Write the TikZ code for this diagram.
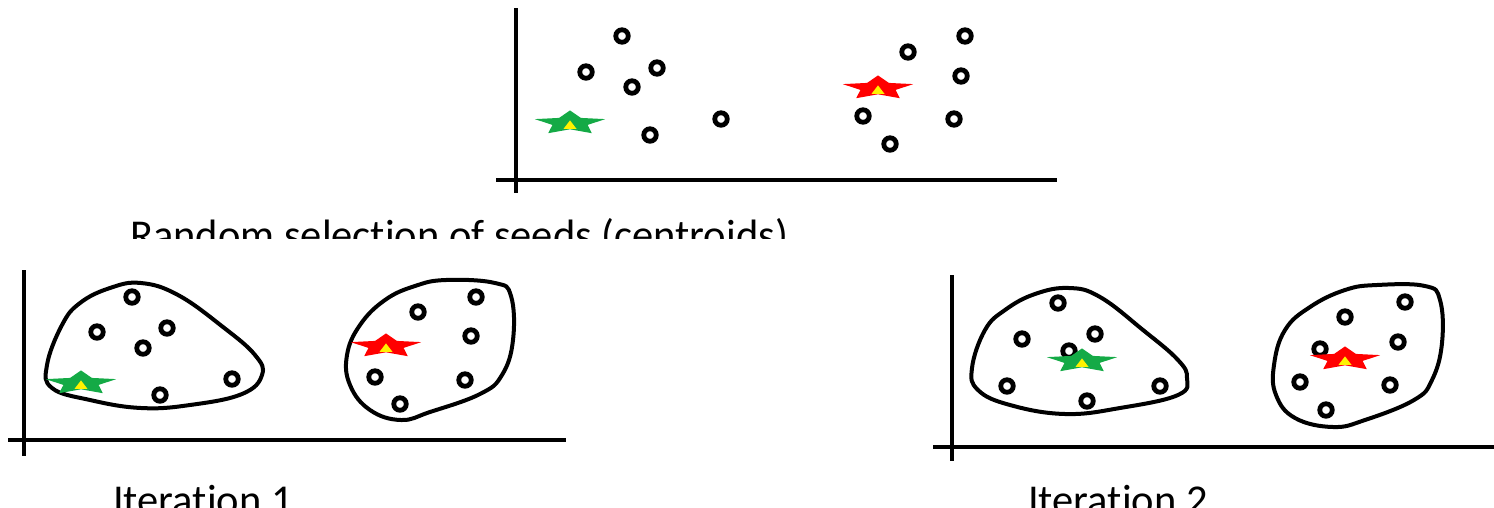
\documentclass[tikz,border=0pt]{standalone}
\usepackage{fontspec}
\setmainfont[Ligatures=NoCommon]{Carlito}
\usetikzlibrary{shapes.geometric}
\tikzset{
  dot/.style={circle, draw=black, line width=4.8pt, minimum size=12.5pt, inner sep=0pt, fill=white},
  axis/.style={line width=4pt, black},
  blob/.style={line width=4pt, black},
  seed/.style={star, star points=5, star point ratio=2.0, inner sep=0pt, minimum size=74pt, yscale=0.34, draw=none},
  tri/.style={regular polygon, regular polygon sides=3, fill=yellow, inner sep=0pt, minimum size=15pt, yscale=0.75, draw=none},
  caption/.style={anchor=base west, inner sep=0pt, font=\fontsize{42.5}{48}\selectfont}
}
\definecolor{seedgreen}{RGB}{20,170,70}
\newcommand\dotat[3]{\node[dot] (#1) at (#2,#3) {};}
\newcommand\seedat[4]{\node[seed, fill=#4] (#1) at (#2,#3) {};\node[tri] (#1t) at (#2,#3+3) {};}
\begin{document}
\begin{tikzpicture}[x=1pt,y=-1pt]
\useasboundingbox (0,0) rectangle (1494,507);
% ---------- top plot ----------
\coordinate (tv1) at (516,8); \coordinate (tv2) at (516,193);
\coordinate (th1) at (496,180); \coordinate (th2) at (1057,180);
\draw[axis] (tv1) -- (tv2);
\draw[axis] (th1) -- (th2);
\dotat{a1}{622}{36}
\dotat{a2}{586}{72}
\dotat{a3}{657}{68}
\dotat{a4}{632}{87}
\dotat{a5}{650}{135}
\dotat{a6}{721}{119}
\dotat{a7}{908}{52}
\dotat{a8}{965}{36}
\dotat{a9}{961}{76}
\dotat{a10}{863}{116}
\dotat{a11}{954}{119}
\dotat{a12}{890}{144}
\seedat{ga}{570}{123}{seedgreen}
\seedat{ra}{878}{88}{red}
\node[caption] (cap0) at (130,249) {Random selection of seeds (centroids)};
\fill[white] (100,239) rectangle (820,262);
% ---------- iteration 1 ----------
\coordinate (lv1) at (24,270); \coordinate (lv2) at (24,456);
\coordinate (lh1) at (8,440); \coordinate (lh2) at (566,440);
\draw[axis] (lv1) -- (lv2);
\draw[axis] (lh1) -- (lh2);
\draw[blob] plot[smooth cycle, tension=0.7] coordinates {
  (141,283) (178,295) (223,327) (255,355) (262,375) (242,394) (190,405) (141,408) (90,400) (52,388) (47,365) (62,325) (80,303) (110,288)};
\draw[blob] plot[smooth cycle, tension=0.7] coordinates {
  (446,280) (495,283) (511,296) (513,340) (502,375) (480,394) (430,412) (401,420) (370,410) (350,385) (347,355) (360,325) (385,300) (415,286)};
\dotat{b1}{132}{297}
\dotat{b2}{97}{332}
\dotat{b3}{167}{328}
\dotat{b4}{143}{348}
\dotat{b5}{160}{395}
\dotat{b6}{232}{379}
\dotat{b7}{476}{297}
\dotat{b8}{418}{312}
\dotat{b9}{471}{336}
\dotat{b10}{375}{377}
\dotat{b11}{465}{380}
\dotat{b12}{400}{404}
\seedat{gb}{81}{383}{seedgreen}
\seedat{rb}{386}{346}{red}
\node[caption] (cap1) at (113,514) {Iteration 1};
% ---------- iteration 2 ----------
\coordinate (rv1) at (952,275); \coordinate (rv2) at (952,461);
\coordinate (rh1) at (933,447); \coordinate (rh2) at (1494,447);
\draw[axis] (rv1) -- (rv2);
\draw[axis] (rh1) -- (rh2);
\draw[blob] plot[smooth cycle, tension=0.7] coordinates {
  (1069,288) (1100,297) (1143,330) (1178,360) (1187,378) (1178,395) (1120,408) (1065,414) (1010,405) (978,390) (972,368) (985,330) (1005,310) (1035,294)};
\draw[blob] plot[smooth cycle, tension=0.7] coordinates {
  (1377,285) (1425,286) (1440,300) (1442,343) (1432,380) (1414,400) (1365,420) (1333,427) (1295,418) (1276,395) (1274,365) (1285,330) (1310,307) (1345,290)};
\dotat{c1}{1058}{303}
\dotat{c2}{1022}{339}
\dotat{c3}{1095}{334}
\dotat{c4}{1069}{351}
\dotat{c5}{1007}{386}
\dotat{c6}{1087}{401}
\dotat{c7}{1160}{386}
\dotat{c8}{1405}{302}
\dotat{c9}{1345}{317}
\dotat{c10}{1398}{342}
\dotat{c11}{1320}{349}
\dotat{c12}{1300}{382}
\dotat{c13}{1390}{385}
\dotat{c14}{1326}{410}
\seedat{gc}{1082}{361}{seedgreen}
\seedat{rc}{1345}{359}{red}
\node[caption] (cap2) at (1028,514) {Iteration 2};
\end{tikzpicture}
\end{document}
